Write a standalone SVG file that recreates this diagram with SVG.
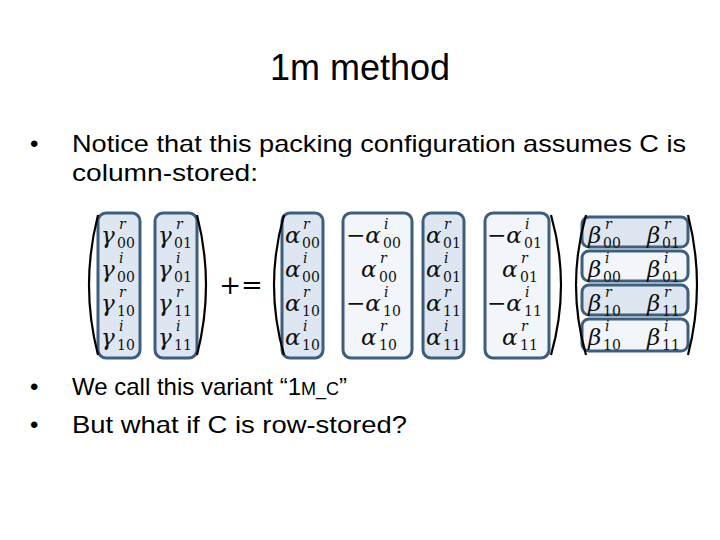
<svg xmlns="http://www.w3.org/2000/svg" width="720" height="540" viewBox="0 0 720 540">
<style>
.t{font-family:"Liberation Sans",Arial,sans-serif;fill:#000}
.m{font-family:"DejaVu Serif",serif;font-style:italic;font-size:23px;fill:#111}
.s{font-family:"DejaVu Serif",serif;font-size:14px;fill:#111}
.si{font-family:"DejaVu Serif",serif;font-style:italic;font-size:14px;fill:#111}
.bd{fill:#dde6f1;stroke:#3e5e7e;stroke-width:3}
.bl{fill:#f2f5f9;stroke:#3e5e7e;stroke-width:3}
.p{fill:none;stroke:#000;stroke-width:2.2}
</style>
<rect width="720" height="540" fill="#fff"/>
<g id="title"><text class="t" x="360" y="80" font-size="36" text-anchor="middle">1m method</text></g>
<g id="bullets" class="t" font-size="24">
<text x="30" y="152">•</text>
<text x="72" y="152" textLength="614" lengthAdjust="spacingAndGlyphs">Notice that this packing configuration assumes C is</text>
<text x="72" y="181" textLength="186" lengthAdjust="spacingAndGlyphs">column-stored:</text>
<text x="30" y="395">•</text>
<text x="72" y="395">We call this variant “1<tspan font-size="18">M_C</tspan>”</text>
<text x="30" y="433">•</text>
<text x="72" y="433" textLength="335" lengthAdjust="spacingAndGlyphs">But what if C is row-stored?</text>
</g>
<g id="gamma">
<rect class="bd" x="98" y="213" width="42" height="145" rx="8"/>
<rect class="bd" x="155" y="213" width="42" height="145" rx="8"/>
<path class="p" d="M98 215 Q80 285 98 355"/>
<path class="p" d="M197 215 Q215 285 197 355"/>
<g class="m"><text x="101" y="243">γ</text><text x="101" y="277">γ</text><text x="101" y="311">γ</text><text x="101" y="345">γ</text>
<text x="158" y="243">γ</text><text x="158" y="277">γ</text><text x="158" y="311">γ</text><text x="158" y="345">γ</text></g>
<g class="si"><text x="119" y="229">r</text><text x="119" y="263">i</text><text x="119" y="297">r</text><text x="119" y="331">i</text>
<text x="176" y="229">r</text><text x="176" y="263">i</text><text x="176" y="297">r</text><text x="176" y="331">i</text></g>
<g class="s"><text x="117" y="248">00</text><text x="117" y="282">00</text><text x="117" y="316">10</text><text x="117" y="350">10</text>
<text x="174" y="248">01</text><text x="174" y="282">01</text><text x="174" y="316">11</text><text x="174" y="350">11</text></g>
</g>
<g id="op"><text x="241" y="294" font-family="DejaVu Serif,serif" font-size="26" text-anchor="middle">+=</text></g>
<g id="alpha">
<rect class="bd" x="282" y="213" width="41" height="145" rx="8"/>
<rect class="bl" x="343" y="213" width="69" height="145" rx="8"/>
<rect class="bd" x="423" y="213" width="41" height="145" rx="8"/>
<rect class="bl" x="485" y="213" width="64" height="145" rx="8"/>
<path class="p" d="M284 215 Q264 285 284 355"/>
<path class="p" d="M551 215 Q571 285 551 355"/>
<g class="m">
<text x="285" y="243">α</text><text x="285" y="277">α</text><text x="285" y="311">α</text><text x="285" y="345">α</text>
<text x="346" y="243">−α</text><text x="361" y="277">α</text><text x="346" y="311">−α</text><text x="361" y="345">α</text>
<text x="426" y="243">α</text><text x="426" y="277">α</text><text x="426" y="311">α</text><text x="426" y="345">α</text>
<text x="487" y="243">−α</text><text x="502" y="277">α</text><text x="487" y="311">−α</text><text x="502" y="345">α</text>
</g>
<g class="si">
<text x="303" y="229">r</text><text x="303" y="263">i</text><text x="303" y="297">r</text><text x="303" y="331">i</text>
<text x="384" y="229">i</text><text x="380" y="263">r</text><text x="384" y="297">i</text><text x="380" y="331">r</text>
<text x="444" y="229">r</text><text x="444" y="263">i</text><text x="444" y="297">r</text><text x="444" y="331">i</text>
<text x="525" y="229">i</text><text x="521" y="263">r</text><text x="525" y="297">i</text><text x="521" y="331">r</text>
</g>
<g class="s">
<text x="302" y="248">00</text><text x="302" y="282">00</text><text x="302" y="316">10</text><text x="302" y="350">10</text>
<text x="383" y="248">00</text><text x="379" y="282">00</text><text x="383" y="316">10</text><text x="379" y="350">10</text>
<text x="443" y="248">01</text><text x="443" y="282">01</text><text x="443" y="316">11</text><text x="443" y="350">11</text>
<text x="524" y="248">01</text><text x="520" y="282">01</text><text x="524" y="316">11</text><text x="520" y="350">11</text>
</g>
</g>
<g id="beta">
<rect class="bd" x="582" y="217" width="106" height="30" rx="7"/>
<rect class="bl" x="582" y="251" width="106" height="30" rx="7"/>
<rect class="bd" x="582" y="285" width="106" height="30" rx="7"/>
<rect class="bl" x="582" y="319" width="106" height="32" rx="7"/>
<path class="p" d="M586 215 Q566 285 586 355"/>
<path class="p" d="M688 215 Q706 285 688 355"/>
<g class="m">
<text x="588" y="243">β</text><text x="588" y="277">β</text><text x="588" y="311">β</text><text x="588" y="345">β</text>
<text x="647" y="243">β</text><text x="647" y="277">β</text><text x="647" y="311">β</text><text x="647" y="345">β</text>
</g>
<g class="si">
<text x="605" y="229">r</text><text x="605" y="263">i</text><text x="605" y="297">r</text><text x="605" y="331">i</text>
<text x="664" y="229">r</text><text x="664" y="263">i</text><text x="664" y="297">r</text><text x="664" y="331">i</text>
</g>
<g class="s">
<text x="603" y="248">00</text><text x="603" y="282">00</text><text x="603" y="316">10</text><text x="603" y="350">10</text>
<text x="662" y="248">01</text><text x="662" y="282">01</text><text x="662" y="316">11</text><text x="662" y="350">11</text>
</g>
</g>
</svg>
